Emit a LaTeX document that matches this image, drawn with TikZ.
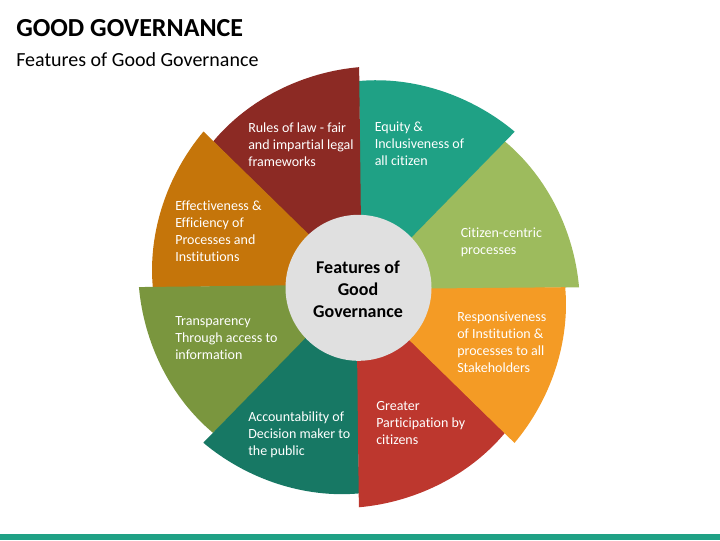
\documentclass[tikz,border=0pt]{standalone}
\usepackage{fontspec}
\setmainfont[Ligatures=NoCommon]{Carlito}
\definecolor{equity}{RGB}{31,161,133}
\definecolor{citizen}{RGB}{157,187,93}
\definecolor{respons}{RGB}{244,155,37}
\definecolor{greater}{RGB}{189,55,46}
\definecolor{account}{RGB}{23,120,100}
\definecolor{transp}{RGB}{122,150,62}
\definecolor{effect}{RGB}{197,117,10}
\definecolor{rules}{RGB}{140,42,36}
\definecolor{hub}{RGB}{224,224,224}
\tikzset{
  label/.style={text=white,align=left,anchor=west,inner sep=0pt,font=\fontsize{10.5}{12.7}\selectfont}
}
\newcommand{\slice}[2]{
    \fill[#2,rotate around={#1:(359,287.2)}] (359,81) .. controls (414.5,76) and (471.8,95.7) .. (514.7,131.7) -- (361,289) -- cycle;
}

\begin{document}
\begin{tikzpicture}[x=0.75pt, y=-0.75pt]
        \useasboundingbox (0,0) rectangle (720,540);
        \fill[equity] (0,534) rectangle (720,540);

        \node[anchor=west,inner sep=0pt,font=\fontsize{19.5}{22}\selectfont\bfseries] (title) at (16,28) {GOOD GOVERNANCE};
        \node[anchor=west,inner sep=0pt,font=\fontsize{15}{18}\selectfont] (subtitle) at (16,60) {Features of Good Governance};

        \slice{-45}{citizen}
        \slice{0}{equity}
        \slice{45}{rules}
        \slice{90}{effect}
        \slice{135}{transp}
        \slice{180}{account}
        \slice{225}{greater}
        \slice{270}{respons}

        \node[circle,fill=hub,minimum size=109.5pt,inner sep=0pt] (G_0) at (358.5,287.8) {};
        \node[inner sep=0pt,align=center,font=\fontsize{13.5}{16.5}\selectfont\bfseries] (G_c) at (358,289.8) {Features of\\Good\\Governance};

        \node[label] (G_1) at (374.5,144) {Equity \&\\Inclusiveness of\\all citizen};
        \node[label] (G_2) at (460.5,242.5) {Citizen-centric\\processes};
        \node[label] (G_3) at (457,342.5) {Responsiveness\\of Institution \&\\processes to all\\Stakeholders};
        \node[label] (G_4) at (376,423) {Greater\\Participation by\\citizens};
        \node[label] (G_5) at (248,435) {Accountability of\\Decision maker to\\the public};
        \node[label] (G_6) at (175,338) {Transparency\\Through access to\\information};
        \node[label] (G_7) at (175,231) {Effectiveness \&\\Efficiency of\\Processes and\\Institutions};
        \node[label] (G_8) at (248,145) {Rules of law - fair\\and impartial legal\\frameworks};
    \end{tikzpicture}
\end{document}
